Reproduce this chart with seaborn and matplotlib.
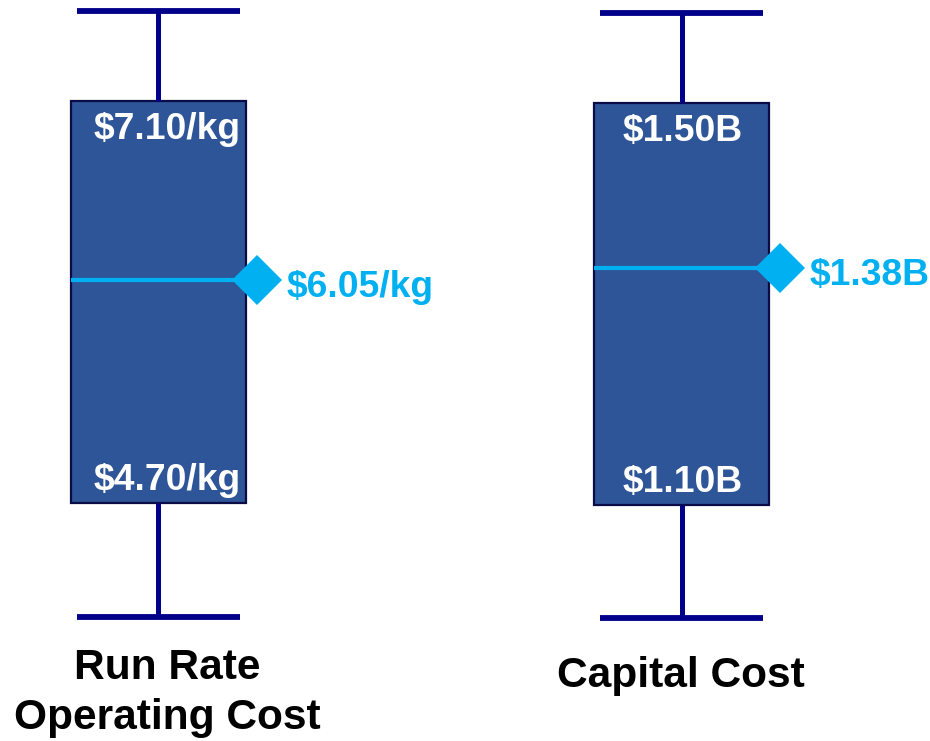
import matplotlib
matplotlib.use("Agg")
import matplotlib.pyplot as plt
import matplotlib.transforms as mtransforms
import numpy as np
import pandas as pd
import seaborn as sns

# ---- data ----
panels = ["Run Rate\nOperating Cost", "Capital Cost"]
# whisker low, Q1, median (as drawn), Q3, whisker high
run_rate_values = [4.02, 4.70, 6.03, 7.10, 7.64]
capital_values = [0.988, 1.10, 1.336, 1.50, 1.59]
run_rate_labels = ["$4.70/kg", "$6.05/kg", "$7.10/kg"]   # low box, median, high box
capital_labels = ["$1.10B", "$1.38B", "$1.50B"]

sns.set_theme(style="white")
plt.rcParams["font.family"] = ["Liberation Sans", "DejaVu Sans"]

BOX_FILL = "#2E5597"
BOX_EDGE = "#0B0B45"
WHISKER = "#00008B"
CYAN = "#00B0F0"

W, H, DPI = 930, 741, 100
PT = 72 / DPI
fig = plt.figure(figsize=(W / DPI, H / DPI), dpi=DPI)
fig.patch.set_facecolor("white")

layout = [
    dict(vals=run_rate_values, labels=run_rate_labels, left=58, ylim=(3.279, 7.703),
         label_dx=9, cat_x=167, cat_base=[679, 729]),
    dict(vals=capital_values, labels=capital_labels, left=581.5, ylim=(0.8652, 1.6025),
         label_dx=1, cat_x=681, cat_base=[687]),
]

box_w = 0.875
for name, lay in zip(panels, layout):
    ax = fig.add_axes([lay["left"] / W, 0, 200 / W, 1])
    df = pd.DataFrame({"value": lay["vals"]})
    sns.boxplot(data=df, y="value", ax=ax, width=box_w, whis=1.5, showfliers=False,
                color=BOX_FILL, saturation=1, linecolor=WHISKER,
                boxprops=dict(facecolor=BOX_FILL, edgecolor=BOX_EDGE, linewidth=1.6),
                whiskerprops=dict(color=WHISKER, linewidth=3.6, solid_capstyle="butt"),
                capprops=dict(color=WHISKER, linewidth=4.2, solid_capstyle="butt"),
                medianprops=dict(color=CYAN, linewidth=3),
                capwidths=0.815)
    ax.set_xlim(-0.5, 0.5)
    ax.set_ylim(*lay["ylim"])
    ax.set_axis_off()

    q1 = np.percentile(lay["vals"], 25)
    med = np.percentile(lay["vals"], 50)
    q3 = np.percentile(lay["vals"], 75)

    # diamond marker just right of the box
    off = mtransforms.ScaledTranslation(11 / DPI, 0, fig.dpi_scale_trans)
    ax.plot([box_w / 2], [med], marker="D", markersize=25, color=CYAN,
            markeredgewidth=0, transform=ax.transData + off, clip_on=False, zorder=5)

    # median label
    ax.annotate(lay["labels"][1], xy=(box_w / 2, med), xytext=(41 * PT, -17 * PT),
                textcoords="offset points", ha="left", va="baseline",
                fontsize=26.8, fontweight="bold", color=CYAN, annotation_clip=False)
    # box labels
    ax.annotate(lay["labels"][2], xy=(0, q3), xytext=(lay["label_dx"] * PT, -38 * PT),
                textcoords="offset points", ha="center", va="baseline",
                fontsize=26.8, fontweight="bold", color="white")
    ax.annotate(lay["labels"][0], xy=(0, q1), xytext=(lay["label_dx"] * PT, 13 * PT),
                textcoords="offset points", ha="center", va="baseline",
                fontsize=26.8, fontweight="bold", color="white")

    for line, base in zip(name.split("\n"), lay["cat_base"]):
        fig.text(lay["cat_x"] / W, 1 - base / H, line, ha="center", va="baseline",
                 fontsize=30.6, fontweight="bold", color="black")

fig.savefig("out.png", dpi=DPI, facecolor="white")
